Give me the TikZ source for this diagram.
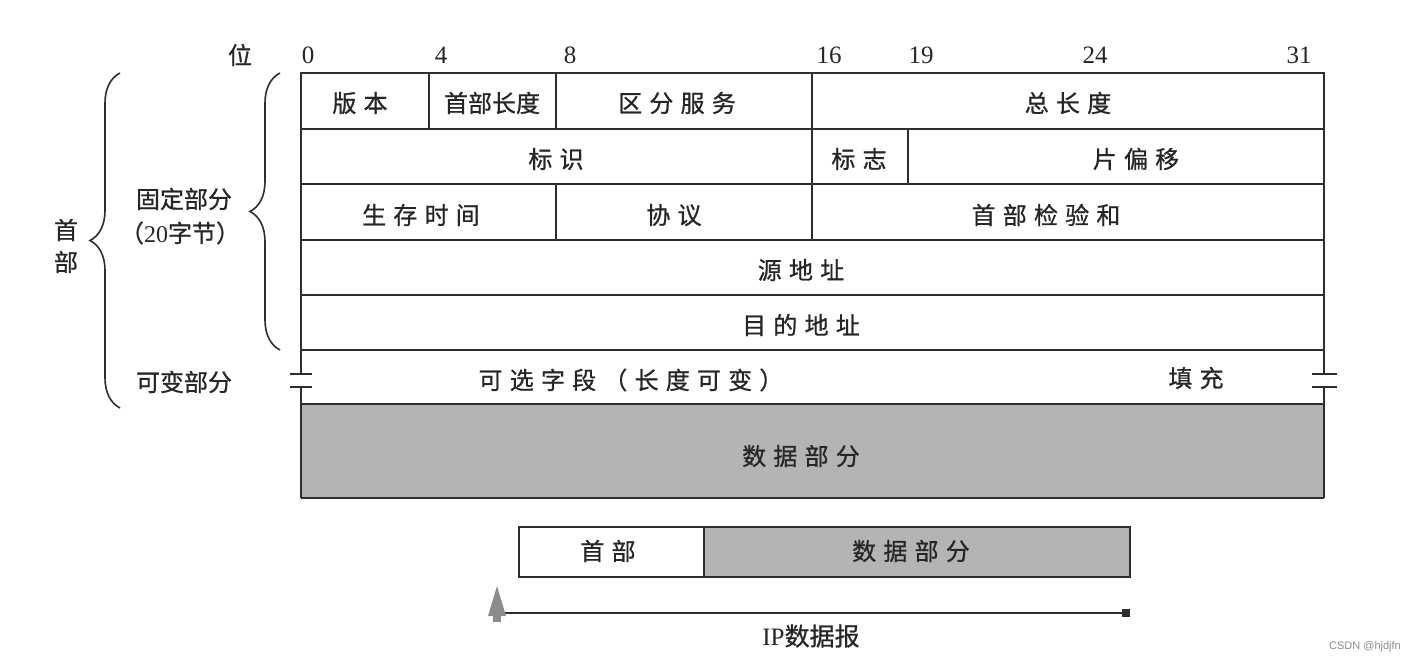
\documentclass[tikz,border=0pt]{standalone}
\usepackage{fontspec}
\setmainfont{Liberation Serif}
\newfontfamily\cjk[FakeBold=0.8]{Noto Sans CJK SC}
\newfontfamily\cjkw[LetterSpace=30,FakeBold=0.8]{Noto Sans CJK SC}
\usetikzlibrary{decorations.pathreplacing,arrows.meta}
\definecolor{ln}{HTML}{2E2E2E}
\definecolor{shadegray}{HTML}{B4B4B4}
\tikzset{
  grid/.style={draw=ln,line width=2pt},
  lbl/.style={inner sep=0pt,font=\fontsize{24}{26}\selectfont\cjkw,text=black!85},
  lbln/.style={inner sep=0pt,font=\fontsize{24}{26}\selectfont\cjk,text=black!85},
  bit/.style={inner sep=0pt,font=\fontsize{25}{26}\selectfont,text=black!85},
  bracestyle/.style={draw=ln,line width=1.6pt,decorate},
}
\begin{document}
\begin{tikzpicture}[x=1pt,y=-1pt]
\useasboundingbox[fill=white] (0,0) rectangle (1409,664);
% data part fill
\fill[shadegray] (301,404) rectangle (1324,498);
% main grid
\draw[grid] (301,73) rectangle (1324,350);
\draw[grid] (301,129) -- (1324,129);
\draw[grid] (301,184) -- (1324,184);
\draw[grid] (301,240) -- (1324,240);
\draw[grid] (301,295) -- (1324,295);
\draw[grid] (429,73) -- (429,129);
\draw[grid] (556,73) -- (556,129);
\draw[grid] (812,73) -- (812,240);
\draw[grid] (908,129) -- (908,184);
\draw[grid] (556,184) -- (556,240);
% variable part with break marks
\draw[grid] (301,350) -- (301,374) (301,387) -- (301,498);
\draw[grid] (1324,350) -- (1324,374) (1324,387) -- (1324,498);
\draw[grid] (290,374) -- (312,374) (290,387) -- (312,387);
\draw[grid] (1312,374) -- (1337,374) (1312,387) -- (1337,387);
\draw[grid] (301,404) -- (1324,404);
\draw[grid] (301,498) -- (1324,498);
% bit labels
\node[bit] (b0) at (308,55) {0};
\node[bit] (b4) at (441,55) {4};
\node[bit] (b8) at (570,55) {8};
\node[bit] (b16) at (829,55) {16};
\node[bit] (b19) at (921,55) {19};
\node[bit] (b24) at (1095,55) {24};
\node[bit] (b31) at (1299,55) {31};
\node[lbln] (wei) at (240,55) {位};
% row 1
\node[lbl] (ver) at (360,103) {版本};
\node[lbln] (hlen) at (492,103) {首部长度};
\node[lbl] (ds) at (677,103) {区分服务};
\node[lbl] (tlen) at (1068,103) {总长度};
% row 2
\node[lbl] (id) at (556,159) {标识};
\node[lbl] (flag) at (859,159) {标志};
\node[lbl] (frag) at (1136,159) {片偏移};
% row 3
\node[lbl] (ttl) at (421,215) {生存时间};
\node[lbl] (proto) at (674,215) {协议};
\node[lbl] (cks) at (1046,215) {首部检验和};
% rows 4,5
\node[lbl] (src) at (801,270) {源地址};
\node[lbl] (dst) at (801,325) {目的地址};
% variable
\node[lbl] (opt) at (631,380) {可选字段（长度可变）};
\node[lbl] (pad) at (1196,378) {填充};
\node[lbl] (data) at (801,456) {数据部分};
% braces
\coordinate (ib1) at (280,350);
\coordinate (ib2) at (280,73);
\draw[bracestyle,decoration={brace,amplitude=30pt}] (ib1) -- (ib2);
\coordinate (ob1) at (120,408);
\coordinate (ob2) at (120,73);
\draw[bracestyle,decoration={brace,amplitude=30pt}] (ob1) -- (ob2);
\node[lbln] (fixed) at (184,199) {固定部分};
\node[lbln] (fixed2) at (180,233) {（\fontspec{Liberation Serif}20\cjk 字节）};
\node[lbln] (var) at (184,382) {可变部分};
\node[lbln,align=center] (hdr) at (66,246) {首\\[6pt]部};
% bottom datagram
\fill[shadegray] (704,527) rectangle (1130,577);
\draw[grid] (519,527) rectangle (1130,577);
\draw[grid] (704,527) -- (704,577);
\node[lbl] (hdr2) at (608,551) {首部};
\node[lbl] (data2) at (911,551) {数据部分};
\coordinate (ipL) at (497,613);
\coordinate (ipR) at (1130,613);
\draw[draw=ln,line width=2pt,-{Square[length=8pt,width=8pt]}] (ipL) -- (ipR);
\fill[black!45] (488,616) -- (497,586) -- (506,616) -- cycle;
\fill[black!45] (493,612) rectangle (501,622);
\node[inner sep=0pt,font=\fontsize{25}{26}\selectfont,text=black!85] (ip) at (811,636) {IP{\cjk 数据报}};
\node[inner sep=0pt,font=\fontsize{11}{12}\selectfont\fontspec{Liberation Sans},text=black!45] (wm) at (1365,647) {CSDN @hjdjfn};
\end{tikzpicture}
\end{document}
